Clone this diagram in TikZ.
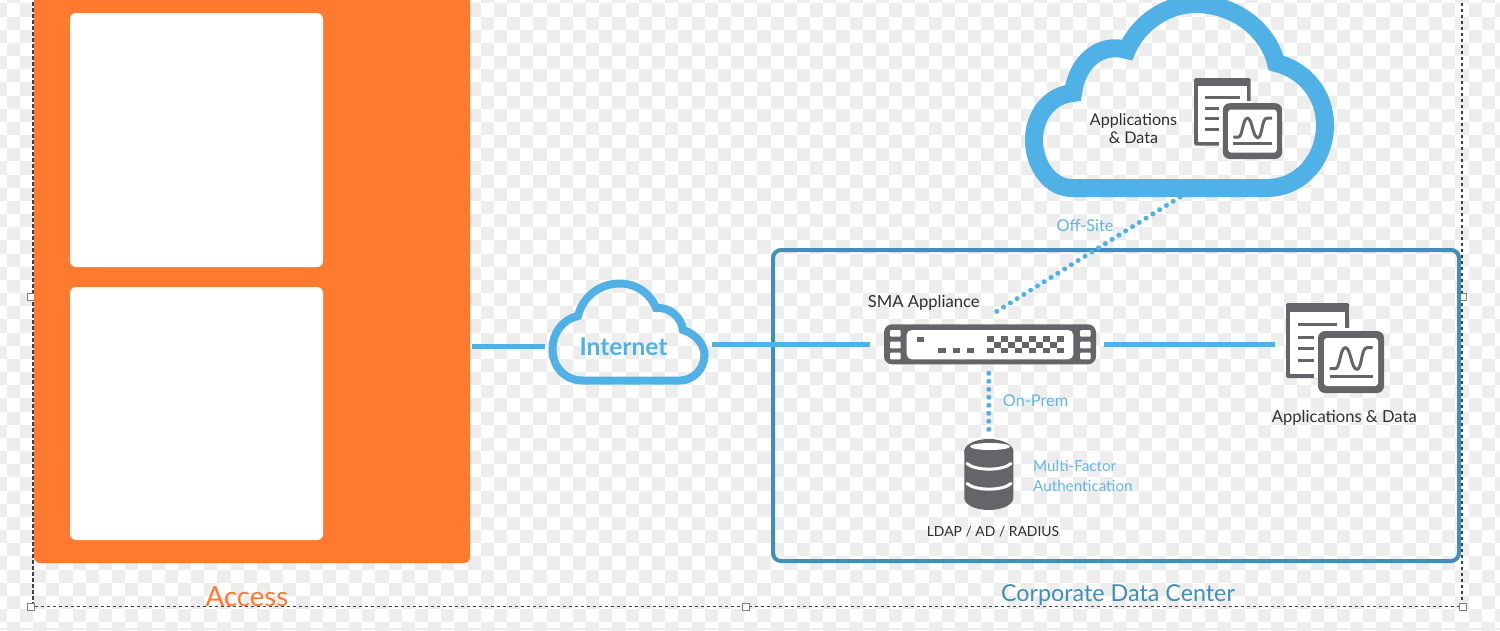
\documentclass[tikz,border=0pt]{standalone}
\usepackage{fontspec}
\setmainfont{Lato}
\usepackage{tikz}

\definecolor{azul}{HTML}{4FB1E6}
\definecolor{azultxt}{HTML}{62B5EA}
\definecolor{azuloscuro}{HTML}{3F8FB9}
\definecolor{naranja}{HTML}{FF7A2E}
\definecolor{gris}{HTML}{636569}
\definecolor{tinta}{HTML}{2F2F31}

\tikzset{
  caja/.style={inner sep=0pt,outer sep=0pt,minimum width=#1},
  enlace/.style={azul,line width=5pt},
  punteado/.style={azul,line width=5pt,line cap=round,dash pattern=on 0pt off 8pt},
  tirador/.style={draw=gray,fill=white,line width=1.3pt,inner sep=0pt,minimum size=6.5pt},
  etiqueta/.style={text=tinta,inner sep=0pt,align=center,font=\fontsize{16.6}{19}\selectfont},
  nota/.style={text=azultxt,inner sep=0pt,align=left,font=\fontsize{16.3}{19.5}\selectfont},
  pics/iconoapps/.style={code={
    %hoja de datos
    \fill[gris,rounded corners=1.5pt] (0,0) rectangle (63,75);
    \fill[white] (4,9) rectangle (59,71);
    %renglones
    \draw[gris,line width=3pt] (12,21.7) -- (51,21.7);
    \foreach \y in {34,45.5,57.5}
      \draw[gris,line width=3pt] (12,\y) -- (28,\y);
    %pantalla
    \fill[white] (28,25) rectangle (65,75);
    \fill[gris,rounded corners=7pt] (32,28) rectangle (98,90);
    \fill[white,rounded corners=3pt] (38,35) rectangle (92,83);
    \draw[gris,line width=3pt] (43.7,65.7) -- (49.3,65.7) .. controls (54,65.7) and (54,44.7) .. (59.3,44.7) .. controls (65,44.7) and (65,66.3) .. (71,66.3) .. controls (76,66.3) and (75,44.7) .. (81,44.7) -- (86.7,44.7);
    \draw[gris,line width=3pt] (43.7,73) -- (86.7,73);
  }}
}

\begin{document}
\begin{tikzpicture}[x=1pt,y=-1pt]
\useasboundingbox (0,0) rectangle (1500,630);

%Fondo a cuadros
\fill[white] (0,0) rectangle (1500,630);
\foreach \n in {-1,1,...,113}
  \foreach \r in {-2,0,...,46}
    \fill[black!7] ({6.67+13.17*\n},{3.33+13.17*\r}) rectangle +(13.17,13.17);
\foreach \n in {0,2,...,112}
  \foreach \r in {-1,1,...,47}
    \fill[black!7] ({6.67+13.17*\n},{3.33+13.17*\r}) rectangle +(13.17,13.17);
\fill[black!7] (0,628) rectangle (1500,630);

%Marco de seleccion
\draw[black!75,line width=1.2pt,dash pattern=on 3.5pt off 2.5pt] (33,-10) -- (33,606.5) -- (1462,606.5) -- (1462,-10);
\foreach \hx/\hy [count=\i] in {31/297,1463/297,31/607,746/607,1463/607}
  \node[tirador] (t\i) at (\hx,\hy) {};

%Panel naranja
\node[caja=436pt,minimum height=583pt,fill=naranja,rounded corners=6pt] (access) at (252,271.5) {};
\fill[white,rounded corners=6pt] (70,13) rectangle (323,267);
\fill[white,rounded corners=6pt] (70,287) rectangle (323,540);
\node[text=naranja,inner sep=0pt,font=\fontsize{27.6}{32}\selectfont] (accesstxt) at (247,597) {Access};

%Centro de datos
\draw[azuloscuro,line width=4pt,rounded corners=8pt] (773,250) rectangle (1459,561);
\node[text=azuloscuro,inner sep=0pt,font=\fontsize{23.3}{28}\selectfont] (datacenter) at (1118,595.5) {Corporate Data Center};

%Nube de internet
\node[caja=161pt,minimum height=106pt] (internet) at (628.5,346.5) {};
\draw[azul,line width=8pt] (583,380.5) .. controls (565,380.5) and (552.5,367) .. (552.5,349) .. controls (552.5,333) and (563,319) .. (578,316) .. controls (583,296) and (600,283.5) .. (620,283.5) .. controls (636,283.5) and (650,293) .. (656,308) .. controls (670,307) and (681,317) .. (683,330) .. controls (696,334) and (704.5,345) .. (704.5,355) .. controls (704.5,369) and (693,380.5) .. (680,380.5) -- cycle;
\node[text=azul,inner sep=0pt,font=\fontsize{24.5}{28}\selectfont\bfseries] (internettxt) at (623.5,347) {Internet};

%Nube externa
\node[caja=312pt,minimum height=202pt] (nube) at (1180,96) {};
\draw[azul,line width=18pt] (1072,188) .. controls (1050,188) and (1034,165) .. (1034,140) .. controls (1034,115) and (1050,95) .. (1073,93) .. controls (1077,62) and (1100,42) .. (1127,50) .. controls (1140,20) and (1170,4) .. (1195,4) .. controls (1235,4) and (1268,30) .. (1276,63) .. controls (1305,70) and (1325,95) .. (1325,125) .. controls (1325,160) and (1300,188) .. (1267,188) -- cycle;
\node[etiqueta,font=\fontsize{16.1}{18}\selectfont] (nubetxt) at (1133.5,128.5) {Applications\\\& Data};
\pic[scale=.9] at (1194,78) {iconoapps};

%Equipo SMA
\node[caja=212pt,minimum height=40pt,fill=gris,rounded corners=8pt] (sma) at (990,344.3) {};
\fill[white,rounded corners=5pt] (906.7,330) rectangle (1073.3,359.3);
\foreach \y in {330,341.7,352.7} {
  \fill[white,rounded corners=1pt] (890,\y) rectangle +(10.7,6.6);
  \fill[white,rounded corners=1pt] (1080,\y) rectangle +(10.7,6.6);
}
\fill[gris] (916.7,336.7) rectangle +(7.3,5);
\foreach \x in {938.3,952.5,966.7}
  \fill[gris] (\x,348) rectangle +(7.3,5.3);
\foreach \x in {0,...,5} {
  \fill[gris] ({986.7+14*\x},336) rectangle +(7,5.7);
  \fill[gris] ({986.7+14*\x},348) rectangle +(7,5.3);
}
\foreach \x in {0,...,4}
  \fill[gris] ({993.7+14*\x},341.7) rectangle +(7,6.3);
\node[etiqueta] (smatxt) at (923.7,303) {SMA Appliance};

%Aplicaciones locales
\node[caja=98pt,minimum height=90pt] (apps) at (1335,348) {};
\pic at (1286,303) {iconoapps};
\node[etiqueta] (appstxt) at (1344.3,417.5) {Applications \& Data};

%Base de datos
\node[caja=49pt,minimum height=71pt] (db) at (988.8,474.5) {};
\fill[gris] (964.3,452) arc[x radius=24.5,y radius=12.5,start angle=180,end angle=360] -- (1013.3,498) arc[x radius=24.5,y radius=12,start angle=0,end angle=180] -- cycle;
\fill[gris] (988.8,451.5) ellipse[x radius=24.5,y radius=12.5];
\fill[white] (990,446.5) ellipse[x radius=20,y radius=3.5];
\draw[white,line width=3pt,line cap=round] (967,463.5) .. controls (975,471) and (1003,471) .. (1011,463.5);
\draw[white,line width=3pt,line cap=round] (967,483.5) .. controls (975,491) and (1003,491) .. (1011,483.5);
\node[etiqueta,font=\fontsize{13.9}{16}\selectfont] (dbtxt) at (993,531.5) {LDAP / AD / RADIUS};
\node[nota,anchor=west,font=\fontsize{15.2}{19.5}\selectfont] (mfa) at (1033,476) {Multi-Factor\\Authentication};

%Enlaces
\draw[enlace] ([xshift=2pt]access.east |- internet.west) -- ([xshift=-3pt]internet.west);
\draw[enlace] ([xshift=3pt]internet.east |- sma.west) -- ([xshift=-14pt]sma.west);
\draw[enlace] ([xshift=8pt]sma.east) -- ([xshift=-11pt]sma.east -| apps.west);
\draw[punteado] (nube.south) -- ([shift={(2,-10)}]sma.north);
\draw[punteado] ([yshift=-9pt]db.north |- sma.south) -- ([yshift=3pt]db.north);

%Rotulos de los enlaces
\node[nota,align=center] (offsite) at (1085,226) {Off-Site};
\node[nota,align=center] (onprem) at (1035.5,401) {On-Prem};
\end{tikzpicture}
\end{document}
